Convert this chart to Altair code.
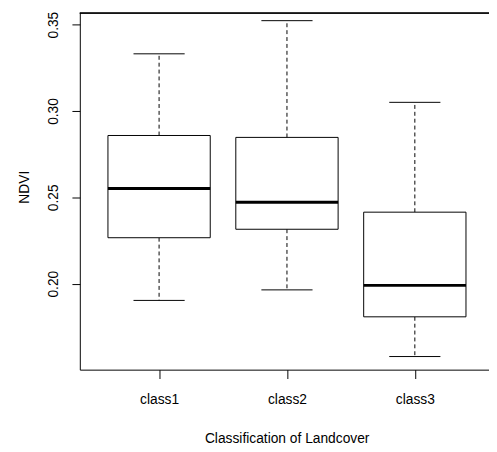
import altair as alt
import pandas as pd

# ---- data ----
classes = ["class1", "class2", "class3"]
whisker_low = [0.1903, 0.1964, 0.1578]
quart1 = [0.2266, 0.2315, 0.1808]
medians = [0.2551, 0.2471, 0.1990]
quart3 = [0.2858, 0.2847, 0.2414]
whisker_high = [0.3331, 0.3523, 0.3050]
y_ticks = [0.20, 0.25, 0.30, 0.35]

df = pd.DataFrame({
    "cls": classes,
    "pos": list(range(1, len(classes) + 1)),
    "lo": whisker_low,
    "q1": quart1,
    "med": medians,
    "q3": quart3,
    "hi": whisker_high,
})

# ---- layout ----
W, H = 416, 363
x_min = 0.38
unit_px = 130.0
x_max = x_min + W / unit_px
y_min = 0.1502
y_px_per_unit = 1755.6
y_max = y_min + H / y_px_per_unit

FONT = "Liberation Sans"

xs = alt.Scale(domain=[x_min, x_max], nice=False, zero=False)
ys = alt.Scale(domain=[y_min, y_max], nice=False, zero=False)

label_expr = "[" + ",".join(f"'{c}'" for c in classes) + "][datum.value - 1]"

x_axis = alt.Axis(
    values=list(range(1, len(classes) + 1)),
    labelExpr=label_expr,
    title="Classification of Landcover",
    labelAngle=0,
    tickSize=9,
    labelPadding=25.4,
    labelBaseline="alphabetic",
    labelAlign="center",
    labelFlush=False,
    labelOverlap=False,
    titleX=210.3,
    titleY=74,
    titleAlign="center",
    titleBaseline="alphabetic",
    grid=False,
)
y_axis = alt.Axis(
    values=y_ticks,
    format=".2f",
    title="NDVI",
    labelAngle=270,
    labelAlign="center",
    labelBaseline="alphabetic",
    tickSize=8,
    labelPadding=15,
    labelFlush=False,
    labelOverlap=False,
    titleAngle=270,
    titleAlign="center",
    titleBaseline="alphabetic",
    titleX=-51.7,
    titleY=177,
    grid=False,
)


def X(field):
    return alt.X(f"{field}:Q", scale=xs, axis=x_axis)


def Y(field):
    return alt.Y(f"{field}:Q", scale=ys, axis=y_axis)


base = alt.Chart(df).transform_calculate(
    left="datum.pos - 0.4",
    right="datum.pos + 0.4",
    capl="datum.pos - 0.2",
    capr="datum.pos + 0.2",
)

upper_whisker = base.mark_rule(color="black", strokeWidth=1, strokeDash=[4, 3]).encode(
    x=X("pos"), y=Y("q3"), y2="hi:Q"
)
lower_whisker = base.mark_rule(color="black", strokeWidth=1, strokeDash=[4, 3]).encode(
    x=X("pos"), y=Y("q1"), y2="lo:Q"
)
boxes = base.mark_rect(fill="white", stroke="black", strokeWidth=1).encode(
    x=X("left"), x2="right:Q", y=Y("q1"), y2="q3:Q"
)
median_line = base.mark_rule(color="black", strokeWidth=3).encode(
    x=X("left"), x2="right:Q", y=Y("med")
)
cap_hi = base.mark_rule(color="black", strokeWidth=1).encode(
    x=X("capl"), x2="capr:Q", y=Y("hi")
)
cap_lo = base.mark_rule(color="black", strokeWidth=1).encode(
    x=X("capl"), x2="capr:Q", y=Y("lo")
)
top_frame = alt.Chart(df).mark_rule(color="black", strokeWidth=1).encode(
    x=alt.value(0), x2=alt.value(W), y=alt.value(0.5)
)

chart = (
    alt.layer(upper_whisker, lower_whisker, boxes, median_line, cap_hi, cap_lo, top_frame)
    .properties(
        width=W,
        height=H,
        autosize=alt.AutoSizeParams(type="none"),
        padding={"left": 73, "top": 1, "right": 0, "bottom": 78},
        background="white",
    )
    .configure_view(stroke=None)
    .configure_axis(
        domainColor="black",
        domainWidth=1,
        tickColor="black",
        tickWidth=1,
        labelColor="black",
        titleColor="black",
        labelFont=FONT,
        titleFont=FONT,
        labelFontSize=14,
        titleFontSize=14,
        titleFontWeight="normal",
    )
)

chart.save("out.html", embed_options={"renderer": "svg", "actions": False})
